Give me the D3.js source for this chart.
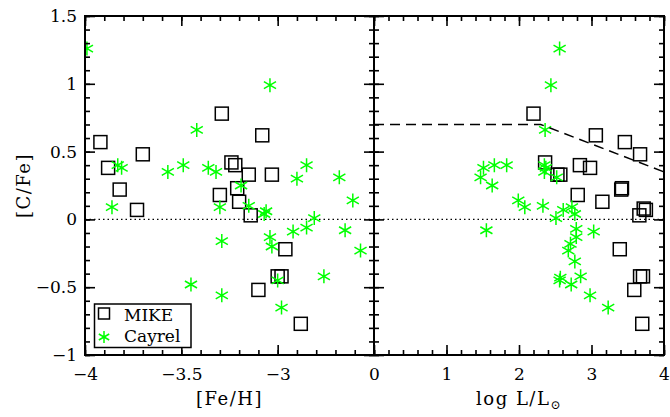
<!DOCTYPE html>
<html>
<head>
<meta charset="utf-8">
<script src="https://cdn.jsdelivr.net/npm/d3@7"></script>
<style>
	body { margin: 0; background: #fff; }
	text { font-family: "DejaVu Serif", "Liberation Serif", serif; fill: #000; }
</style>
</head>
<body>
<svg id="chart" width="670" height="417"></svg>
<script>
"use strict";

//
//	Data
//
var cfeTicks = [1.5, 1, 0.5, 0, -0.5, -1];
var fehTicks = [-4, -3.5, -3];
var lumTicks = [0, 1, 2, 3, 4];
var legendLabels = ["MIKE", "Cayrel"];

// MIKE sample, [Fe/H] vs [C/Fe]
var mikeFeH = [
	[-3.92, 0.57], [-3.88, 0.38], [-3.82, 0.22], [-3.70, 0.48], [-3.73, 0.07],
	[-3.29, 0.78], [-3.24, 0.42], [-3.22, 0.40], [-3.30, 0.18], [-3.21, 0.23],
	[-3.15, 0.33], [-3.20, 0.13], [-3.08, 0.62], [-3.03, 0.33], [-3.14, 0.03],
	[-2.96, -0.22], [-3.00, -0.42], [-2.98, -0.42], [-3.10, -0.52], [-2.88, -0.77]
];

// MIKE sample, log L/Lsun vs [C/Fe]
var mikeLum = [
	[2.20, 0.78], [3.06, 0.62], [3.46, 0.57], [3.67, 0.48], [2.36, 0.42],
	[2.84, 0.40], [2.98, 0.38], [2.53, 0.33], [2.57, 0.33], [3.42, 0.23],
	[3.41, 0.22], [2.81, 0.18], [3.15, 0.13], [3.72, 0.08], [3.75, 0.07],
	[3.66, 0.03], [3.39, -0.22], [3.67, -0.42], [3.71, -0.42], [3.59, -0.52],
	[3.70, -0.77]
];

// Cayrel sample, [Fe/H] vs [C/Fe]
var cayrelFeH = [
	[-3.99, 1.26], [-3.83, 0.40], [-3.81, 0.38], [-3.86, 0.09], [-3.57, 0.35],
	[-3.49, 0.40], [-3.42, 0.66], [-3.36, 0.38], [-3.32, 0.35], [-3.30, 0.09],
	[-3.04, 0.99], [-2.85, 0.40], [-2.90, 0.30], [-2.68, 0.31], [-2.61, 0.14],
	[-3.19, 0.25], [-3.15, 0.10], [-3.06, 0.06], [-3.07, 0.04], [-2.81, 0.01],
	[-3.04, -0.13], [-3.03, -0.20], [-2.92, -0.09], [-2.85, -0.06], [-2.65, -0.08],
	[-2.57, -0.23], [-2.76, -0.42], [-3.00, -0.45], [-2.98, -0.65], [-3.29, -0.16],
	[-3.29, -0.56], [-3.45, -0.48]
];

// Cayrel sample, log L/Lsun vs [C/Fe]
var cayrelLum = [
	[2.56, 1.26], [2.44, 0.99], [2.36, 0.66], [1.51, 0.38], [1.66, 0.40],
	[1.83, 0.40], [1.47, 0.31], [1.63, 0.25], [2.35, 0.40], [2.35, 0.35],
	[2.37, 0.38], [2.52, 0.31], [1.99, 0.14], [2.08, 0.09], [2.33, 0.10],
	[2.61, 0.07], [2.73, 0.09], [2.51, 0.01], [2.77, 0.04], [1.55, -0.08],
	[2.79, -0.07], [3.03, -0.09], [2.79, -0.13], [2.71, -0.18], [2.68, -0.23],
	[2.77, -0.31], [2.85, -0.42], [2.57, -0.43], [2.56, -0.45], [2.72, -0.48],
	[2.98, -0.56], [3.23, -0.65]
];

// dashed upper envelope in the luminosity panel
var limitLine = [[0, 0.7], [2.3, 0.7], [4, 0.35]];

//
//	Layout
//
var svg = d3.select("#chart");
var TOP = 16, BOTTOM = 355, LEFT = 85, MID = 374, RIGHT = 664;
var GREEN = "#00ff00";

var y = d3.scaleLinear().domain([-1, 1.5]).range([BOTTOM, TOP]);
var xFeH = d3.scaleLinear().domain([-4, -2.5]).range([LEFT, MID]);
var xLum = d3.scaleLinear().domain([0, 4]).range([MID, RIGHT]);

function fmt(d){
	return String(d).replace("-", "\u2212");
}

function range(a, b, step){
	var out = [];
	var n = Math.round((b - a) / step);
	for (var i = 0; i <= n; i++) out.push(+(a + i * step).toFixed(4));
	return out;
}

//
//	Draw one panel frame with inward ticks on all four sides
//
function drawFrame(x, xMajor, xMinor, labelX, labelY){
	var x0 = x.range()[0], x1 = x.range()[1];
	var sides = [
		{axis: d3.axisBottom, ticks: x, tr: "translate(0," + BOTTOM + ")", major: xMajor, minor: xMinor, labels: true},
		{axis: d3.axisTop, ticks: x, tr: "translate(0," + TOP + ")", major: xMajor, minor: xMinor, labels: false},
		{axis: d3.axisLeft, ticks: y, tr: "translate(" + x0 + ",0)", major: cfeTicks, minor: range(-1, 1.5, 0.1), labels: labelY},
		{axis: d3.axisRight, ticks: y, tr: "translate(" + x1 + ",0)", major: cfeTicks, minor: range(-1, 1.5, 0.1), labels: false}
	];
	sides.forEach(function(s){
		var minor = s.axis(s.ticks).tickValues(s.minor).tickSize(-5).tickFormat("");
		var major = s.axis(s.ticks).tickValues(s.major).tickSize(-10).tickPadding(8)
			.tickFormat(s.labels ? fmt : "");
		var gm = svg.append("g").attr("transform", s.tr).call(minor);
		var gM = svg.append("g").attr("transform", s.tr).call(major);
		[gm, gM].forEach(function(g){
			g.select(".domain").remove();
			g.selectAll("line").attr("stroke", "#000").attr("stroke-width", 1.6);
			g.selectAll("text").attr("font-size", 17).attr("font-family", "DejaVu Serif");
		});
		if (s.axis === d3.axisBottom) gM.selectAll("text").attr("dy", "1.0em");
	});
	svg.append("rect")
		.attr("x", x0).attr("y", TOP)
		.attr("width", x1 - x0).attr("height", BOTTOM - TOP)
		.attr("fill", "none").attr("stroke", "#000").attr("stroke-width", 2);
}

function starPath(r){
	var a = r * Math.cos(Math.PI / 6), b = r * Math.sin(Math.PI / 6);
	return "M0," + (-r) + "L0," + r +
		"M" + (-a) + "," + (-b) + "L" + a + "," + b +
		"M" + (-a) + "," + b + "L" + a + "," + (-b);
}

function drawPoints(x, mike, cayrel){
	var clipId = "clip" + Math.round(x.range()[0]);
	svg.append("clipPath").attr("id", clipId).append("rect")
		.attr("x", x.range()[0]).attr("y", TOP)
		.attr("width", x.range()[1] - x.range()[0]).attr("height", BOTTOM - TOP);
	var g = svg.append("g").attr("clip-path", "url(#" + clipId + ")");

	// zero line
	g.append("line")
		.attr("x1", x.range()[0]).attr("x2", x.range()[1])
		.attr("y1", y(0)).attr("y2", y(0))
		.attr("stroke", "#000").attr("stroke-width", 1.2)
		.attr("stroke-dasharray", "1.5,3");

	g.selectAll("rect.mike").data(mike).enter().append("rect")
		.attr("class", "mike")
		.attr("x", function(d){ return x(d[0]) - 6.5; })
		.attr("y", function(d){ return y(d[1]) - 6.5; })
		.attr("width", 13).attr("height", 13)
		.attr("fill", "none").attr("stroke", "#000").attr("stroke-width", 1.5);

	g.selectAll("path.cayrel").data(cayrel).enter().append("path")
		.attr("class", "cayrel")
		.attr("d", starPath(7))
		.attr("transform", function(d){ return "translate(" + x(d[0]) + "," + y(d[1]) + ")"; })
		.attr("fill", "none").attr("stroke", GREEN).attr("stroke-width", 1.5);
	return g;
}

//
//	Left panel: [C/Fe] vs [Fe/H]
//
drawPoints(xFeH, mikeFeH, cayrelFeH);
drawFrame(xFeH, fehTicks, range(-4, -2.5, 0.1), true, true);

//
//	Right panel: [C/Fe] vs log L
//
var gR = drawPoints(xLum, mikeLum, cayrelLum);
gR.append("path")
	.attr("d", d3.line().x(function(d){ return xLum(d[0]); }).y(function(d){ return y(d[1]); })(limitLine))
	.attr("fill", "none").attr("stroke", "#000").attr("stroke-width", 1.5)
	.attr("stroke-dasharray", "10,6");
drawFrame(xLum, lumTicks, range(0, 4, 0.2), true, false);

//
//	Axis titles
//
svg.append("text")
	.attr("x", (LEFT + MID) / 2).attr("y", 405)
	.attr("text-anchor", "middle").attr("font-size", 18).attr("letter-spacing", 1.5)
	.text("[Fe/H]");

var lt = svg.append("text")
	.attr("x", (MID + RIGHT) / 2).attr("y", 405)
	.attr("text-anchor", "middle").attr("font-size", 18).attr("letter-spacing", 1.5);
lt.append("tspan").text("log L/L");
lt.append("tspan").attr("font-size", 12).attr("dy", 4).text("\u2299");

svg.append("text")
	.attr("transform", "translate(30," + ((TOP + BOTTOM) / 2) + ") rotate(-90)")
	.attr("text-anchor", "middle").attr("font-size", 18).attr("letter-spacing", 1.5)
	.text("[C/Fe]");

//
//	Legend
//
var lg = svg.append("g");
lg.append("rect")
	.attr("x", 94.5).attr("y", 304).attr("width", 96.5).attr("height", 43.5)
	.attr("fill", "#fff").attr("stroke", "#000").attr("stroke-width", 1.5);
lg.append("rect")
	.attr("x", 98.5).attr("y", 308).attr("width", 11).attr("height", 11)
	.attr("fill", "none").attr("stroke", "#000").attr("stroke-width", 1.5);
lg.append("path")
	.attr("d", starPath(6))
	.attr("transform", "translate(104,337)")
	.attr("fill", "none").attr("stroke", GREEN).attr("stroke-width", 1.5);
lg.selectAll("text").data(legendLabels).enter().append("text")
	.attr("x", 124)
	.attr("y", function(d, i){ return 321 + i * 21; })
	.attr("font-size", 17)
	.text(function(d){ return d; });
</script>
</body>
</html>
